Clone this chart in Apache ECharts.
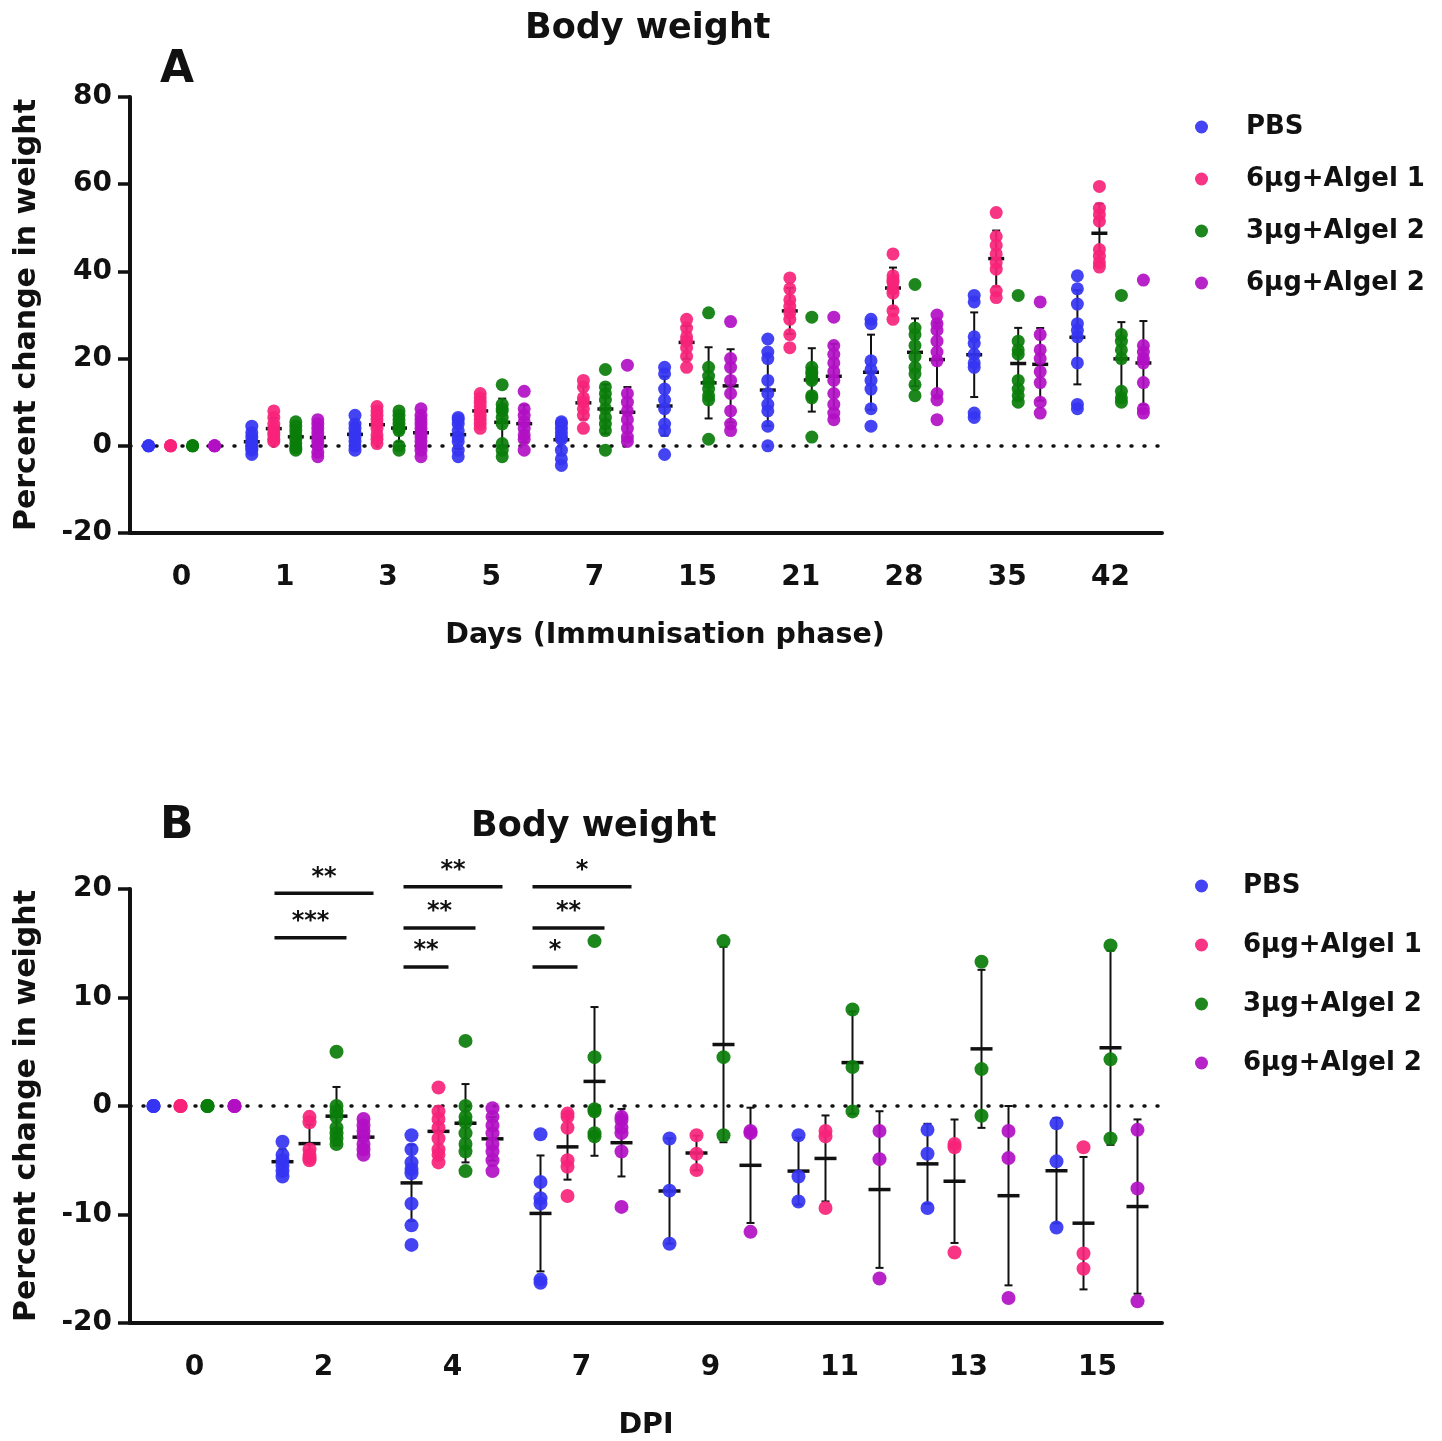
<!DOCTYPE html>
<html>
<head>
<meta charset="utf-8">
<script src="https://cdn.jsdelivr.net/npm/echarts@6/dist/echarts.min.js"></script>
<style>
html, body { margin: 0; padding: 0; background: #fff; }
#chart { width: 1442px; height: 1441px; }
</style>
</head>
<body>
<div id="chart"></div>
<script>
const groupNames = ['PBS', '6μg+Algel 1', '3μg+Algel 2', '6μg+Algel 2'];
const groupColors = ['#3434f2', '#f7237a', '#0a7d0a', '#b20fc4'];

// A: immunisation phase
const immDays = ['0', '1', '3', '5', '7', '15', '21', '28', '35', '42'];
const immPBS = [
  [0, 0, 0],
  [4.5, 3, 2, 1, 0.5, -0.5, -1, -2],
  [7, 5, 4, 3, 2, 1, 0, -1],
  [6.5, 6, 5, 3.5, 2, 1, -1, -2.5],
  [5.5, 5, 4, 3, 2, 1.5, -1, -3, -4.5],
  [18, 16.5, 13, 10.5, 8.5, 5, 3.5, -2],
  [24.5, 21.5, 20, 15, 12, 9.5, 8, 4.5, 0],
  [29, 28, 19.5, 17.5, 15, 13, 8.5, 4.5],
  [34.5, 33, 25, 23.5, 21, 19, 18, 7.5, 6.5],
  [39, 36, 32.5, 28, 26.5, 25, 19, 9.5, 8.5]
];
const immAlgel1 = [
  [0, 0, 0],
  [8, 6.5, 5, 4, 3, 2.5, 1.5, 1],
  [9, 8, 7, 6, 5, 4, 2.5, 1.5, 0.5],
  [12, 11, 10, 9, 8, 7, 6, 5, 4],
  [15, 13.5, 11, 10, 8.5, 7, 4],
  [29, 27, 25, 24, 22.5, 20.5, 18],
  [38.5, 36, 33.5, 32, 30.5, 29, 25.5, 22.5],
  [44, 39, 38, 37.5, 36, 35, 31, 29],
  [53.5, 48, 46, 44, 42, 40.5, 35.5, 34],
  [59.5, 54.5, 53, 51.5, 45, 43.5, 42, 41]
];
const imm3ugAlgel2 = [
  [0, 0, 0],
  [5.5, 4.5, 3.5, 2.5, 1.5, 0.5, -0.5, -1],
  [8, 7, 6, 5, 4, 3.5, 0, -1],
  [14, 9.5, 8.5, 8, 6.5, 5, 0.5, -1, -2.5],
  [17.5, 13.5, 12, 10.5, 8.5, 6.5, 5, 3.5, -1],
  [30.5, 18, 16, 14.5, 13, 11.5, 10.5, 1.5],
  [29.5, 18, 17, 16.5, 15.5, 15, 11.5, 11, 2],
  [37, 27, 25.5, 23, 20.5, 18, 16.5, 14, 11.5],
  [34.5, 24, 22, 21, 15, 13, 11.5, 10],
  [34.5, 25.5, 24, 22, 20, 12.5, 11, 10]
];
const imm6ugAlgel2 = [
  [0, 0, 0],
  [6, 5, 4, 3, 2, 1, 0, -1.5, -2.5],
  [8.5, 7, 6, 5, 4, 3, 2, 1, 0, -1, -2.5],
  [12.5, 8.5, 7, 5.5, 4, 2.5, 1.5, -1],
  [18.5, 12, 10, 8, 6, 4, 2, 1],
  [28.5, 20, 18, 15, 12, 8, 5, 3.5],
  [29.5, 23, 21, 19, 17, 15, 12, 9.5, 7.5, 6],
  [30, 28, 26.5, 24, 21.5, 19.5, 12, 10.5, 6],
  [33, 25.5, 22, 20, 17, 14.5, 10, 7.5],
  [38, 23, 21.5, 20, 19, 14.5, 8.5, 7.5]
];

// B: days post infection
const dpiDays = ['0', '2', '4', '7', '9', '11', '13', '15'];
const dpiPBS = [
  [0, 0, 0],
  [-3.3, -4.5, -5, -5.5, -6, -6.5],
  [-2.7, -4, -5.2, -5.8, -6.2, -9, -11, -12.8],
  [-2.6, -7, -8.5, -9, -16, -16.3],
  [-3, -7.8, -12.7],
  [-2.7, -6.5, -8.8],
  [-2.2, -4.4, -9.4],
  [-1.6, -5.1, -11.2]
];
const dpiAlgel1 = [
  [0, 0, 0],
  [-1, -1.5, -4, -4.5, -4.8, -5],
  [1.7, -0.5, -1.2, -2, -3, -4, -4.5, -5.2],
  [-0.7, -1, -2, -5, -5.6, -8.3],
  [-2.7, -4.4, -5.9],
  [-2.3, -2.8, -9.4],
  [-3.5, -3.8, -13.5],
  [-3.8, -13.6, -15]
];
const dpi3ugAlgel2 = [
  [0, 0, 0],
  [5, 0, -0.5, -1, -2, -2.5, -3, -3.5],
  [6, 0, -1, -1.5, -2.5, -3.5, -4.2, -6],
  [15.2, 4.5, -0.3, -0.5, -2.5, -2.8],
  [15.2, 4.5, -2.7],
  [8.9, 3.6, -0.5],
  [13.3, 3.4, -0.9],
  [14.8, 4.3, -3]
];
const dpi6ugAlgel2 = [
  [0, 0, 0],
  [-1.2, -1.8, -2.3, -2.8, -3.5, -4, -4.5],
  [-0.2, -1, -1.8, -2.5, -3.5, -4.2, -5, -6],
  [-1, -1.3, -2, -2.5, -4.2, -9.3],
  [-2.3, -2.5, -11.6],
  [-2.3, -4.9, -15.9],
  [-2.3, -4.8, -17.7],
  [-2.2, -7.6, -18]
];

// significance brackets in B: [day index, from group, to group, height, stars]
const sigBars = [
  [1, 0, 3, 19.6, '**'],
  [1, 0, 2, 15.5, '***'],
  [2, 0, 3, 20.2, '**'],
  [2, 0, 2, 16.4, '**'],
  [2, 0, 1, 12.8, '**'],
  [3, 0, 3, 20.2, '*'],
  [3, 0, 2, 16.4, '**'],
  [3, 0, 1, 12.8, '*']
];

const immGroups = [immPBS, immAlgel1, imm3ugAlgel2, imm6ugAlgel2];
const dpiGroups = [dpiPBS, dpiAlgel1, dpi3ugAlgel2, dpi6ugAlgel2];
// pixel shift of each group inside its day slot
const immShift = [-33, -11, 11, 33];
const dpiShift = [-41, -14, 13, 40];

const FONT = 'DejaVu Sans';

function meanSd (vals) {
  const n = vals.length;
  const m = vals.reduce((a, b) => a + b, 0) / n;
  let ss = 0;
  vals.forEach(v => { ss += (v - m) * (v - m) });
  return { mean: m, sd: n > 1 ? Math.sqrt(ss / (n - 1)) : 0 };
}

function dotSeries (groups, shift, idx, size) {
  return groups.map((g, k) => {
    const data = [];
    g.forEach((vals, i) => vals.forEach(v => data.push([i, v])));
    const s = {
      type: 'scatter',
      name: groupNames[k],
      xAxisIndex: idx,
      yAxisIndex: idx,
      symbol: 'circle',
      symbolSize: size,
      symbolOffset: [shift[k], 0],
      itemStyle: { color: groupColors[k], opacity: 0.92 },
      z: 4,
      data: data
    };
    if (k === 0) {
      // dotted baseline at 0 %
      s.markLine = {
        silent: true,
        symbol: 'none',
        z: 1,
        label: { show: false },
        lineStyle: { color: '#111', width: 3.5, type: [1, 12], cap: 'round' },
        data: [{ yAxis: 0 }]
      };
    }
    return s;
  });
}

function barSeries (groups, shift, idx, meanW) {
  const data = [];
  groups.forEach((g, k) => g.forEach((vals, i) => {
    const s = meanSd(vals);
    if (s.sd > 0) data.push([i, s.mean, s.sd, k]);
  }));
  return {
    type: 'custom',
    xAxisIndex: idx,
    yAxisIndex: idx,
    silent: true,
    z: 3,
    data: data,
    renderItem: function (params, api) {
      const c = api.coord([api.value(0), api.value(1)]);
      const hi = api.coord([api.value(0), api.value(1) + api.value(2)]);
      const lo = api.coord([api.value(0), api.value(1) - api.value(2)]);
      const x = c[0] + shift[api.value(3)];
      const st = { stroke: '#111', lineWidth: 2 };
      return {
        type: 'group',
        children: [
          { type: 'line', shape: { x1: x, y1: hi[1], x2: x, y2: lo[1] }, style: st },
          { type: 'line', shape: { x1: x - 4, y1: hi[1], x2: x + 4, y2: hi[1] }, style: st },
          { type: 'line', shape: { x1: x - 4, y1: lo[1], x2: x + 4, y2: lo[1] }, style: st },
          { type: 'line', shape: { x1: x - meanW / 2, y1: c[1], x2: x + meanW / 2, y2: c[1] }, style: { stroke: '#111', lineWidth: 3.5 } }
        ]
      };
    }
  };
}

const sigSeries = {
  type: 'custom',
  xAxisIndex: 1,
  yAxisIndex: 1,
  silent: true,
  z: 5,
  clip: false,
  data: sigBars.map(r => [r[0], r[3], r[1], r[2]]),
  renderItem: function (params, api) {
    const c = api.coord([api.value(0), api.value(1)]);
    const x1 = c[0] + dpiShift[api.value(2)] - 8;
    const x2 = c[0] + dpiShift[api.value(3)] + 10;
    return {
      type: 'group',
      children: [
        { type: 'line', shape: { x1: x1, y1: c[1], x2: x2, y2: c[1] }, style: { stroke: '#111', lineWidth: 3.5 } },
        {
          type: 'text',
          style: {
            x: (x1 + x2) / 2,
            y: c[1] - 16,
            text: sigBars[params.dataIndex][4],
            fill: '#111',
            font: 'bold 24px "DejaVu Sans"',
            align: 'center',
            verticalAlign: 'middle'
          }
        }
      ]
    };
  }
};

function xAxisCfg (idx, cats, name, gap, shiftName) {
  return {
    type: 'category',
    gridIndex: idx,
    data: cats,
    name: name,
    nameLocation: 'middle',
    nameGap: gap,
    nameTextStyle: { fontFamily: FONT, fontWeight: 'bold', fontSize: 28.5, color: '#111', padding: [0, 0, 0, shiftName] },
    axisLine: { onZero: false, lineStyle: { color: '#111', width: 4 } },
    axisTick: { alignWithLabel: true, length: 15, lineStyle: { width: 4, color: '#111' } },
    axisLabel: { margin: 31, fontFamily: FONT, fontWeight: 'bold', fontSize: 28, color: '#111' },
    splitLine: { show: false }
  };
}

function yAxisCfg (idx, min, max, step) {
  return {
    type: 'value',
    gridIndex: idx,
    min: min,
    max: max,
    interval: step,
    name: 'Percent change in weight',
    nameLocation: 'middle',
    nameGap: 88,
    nameTextStyle: { fontFamily: FONT, fontWeight: 'bold', fontSize: 30, color: '#111' },
    axisLine: { show: true, lineStyle: { color: '#111', width: 4 } },
    axisTick: { show: true, length: 12, lineStyle: { width: 3.5, color: '#111' } },
    axisLabel: { margin: 18, fontFamily: FONT, fontWeight: 'bold', fontSize: 28, color: '#111' },
    splitLine: { show: false }
  };
}

function legendCfg (top, gap, pad) {
  return {
    orient: 'vertical',
    left: 1190,
    top: top,
    data: groupNames,
    icon: 'circle',
    itemWidth: 13,
    itemHeight: 13,
    itemGap: gap,
    selectedMode: false,
    textStyle: { fontFamily: FONT, fontWeight: 'bold', fontSize: 26, color: '#111', lineHeight: 30, padding: [0, 0, 0, pad] }
  };
}

const chart = echarts.init(document.getElementById('chart'));
chart.setOption({
  backgroundColor: '#fff',
  animation: false,
  title: [
    { text: 'Body weight', left: 520, top: 6, textStyle: { fontFamily: FONT, fontWeight: 'bold', fontSize: 35, color: '#111' } },
    { text: 'A', left: 155, top: 44, textStyle: { fontFamily: FONT, fontWeight: 'bold', fontSize: 44, color: '#111' } },
    { text: 'Body weight', left: 466, top: 804, textStyle: { fontFamily: FONT, fontWeight: 'bold', fontSize: 35, color: '#111' } },
    { text: 'B', left: 155, top: 800, textStyle: { fontFamily: FONT, fontWeight: 'bold', fontSize: 44, color: '#111' } }
  ],
  legend: [legendCfg(107, 22, 33), legendCfg(866, 29, 30)],
  grid: [
    { left: 130, right: 280, top: 97, height: 436 },
    { left: 130, right: 280, top: 889, height: 436 }
  ],
  xAxis: [
    xAxisCfg(0, immDays, 'Days (Immunisation phase)', 88, 38),
    xAxisCfg(1, dpiDays, 'DPI', 88, 0)
  ],
  yAxis: [
    yAxisCfg(0, -20, 80, 20),
    yAxisCfg(1, -20, 20, 10)
  ],
  series: [].concat(
    [barSeries(immGroups, immShift, 0, 16)],
    dotSeries(immGroups, immShift, 0, 13),
    [barSeries(dpiGroups, dpiShift, 1, 22)],
    dotSeries(dpiGroups, dpiShift, 1, 14),
    [sigSeries]
  )
});
</script>
</body>
</html>
